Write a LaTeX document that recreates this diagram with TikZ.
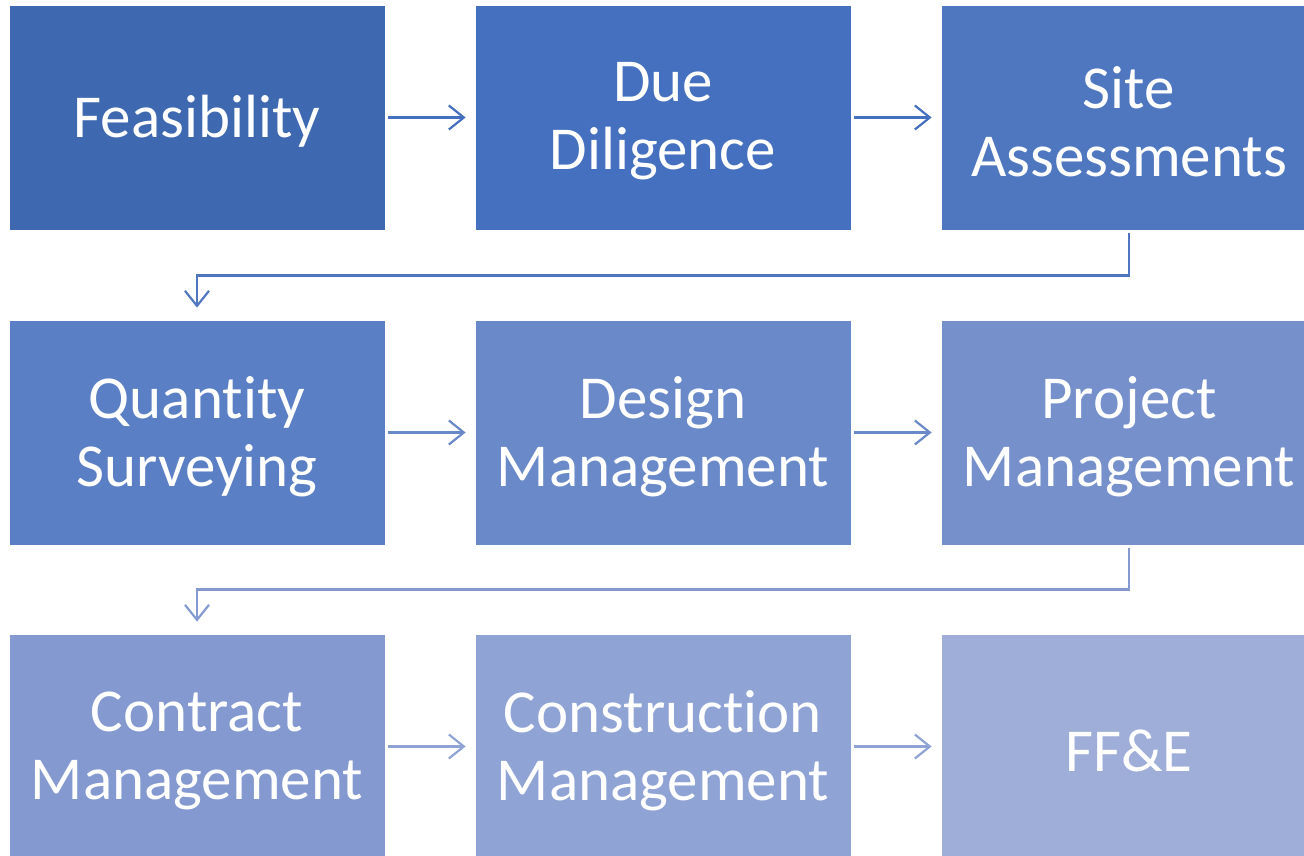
\documentclass[tikz,border=0pt]{standalone}
\usepackage{fontspec}
\setmainfont[RawFeature=-liga]{Carlito}
\usetikzlibrary{arrows.meta}
\definecolor{c1}{HTML}{3E68B0}
\definecolor{c2}{HTML}{4470BF}
\definecolor{c3}{HTML}{4F77C0}
\definecolor{c4}{HTML}{5B7FC5}
\definecolor{c5}{HTML}{6A89C9}
\definecolor{c6}{HTML}{7690CC}
\definecolor{c7}{HTML}{8399D0}
\definecolor{c8}{HTML}{8FA3D4}
\definecolor{c9}{HTML}{9FAED8}
\tikzset{
  stage/.style={rectangle, fill=#1, draw=white, line width=0.8pt,
    minimum width=376pt, minimum height=225pt, inner sep=0pt},
  lbl/.style={text=white, align=center, inner sep=0pt, yshift=-4pt,
    font=\fontsize{61}{68}\selectfont},
  flow/.style={draw=#1, line width=2.2pt,
    -{Straight Barb[length=15pt,width=24pt,line width=2.2pt]},
    shorten <=3pt, shorten >=9pt},
  elbow/.style={draw=#1, line width=2.2pt,
    -{Straight Barb[length=15pt,width=24pt,line width=2.2pt]},
    shorten <=3pt, shorten >=12pt}
}
\begin{document}
\begin{tikzpicture}[x=1pt,y=-1pt]
\useasboundingbox (0,0) rectangle (1304,855);
\clip (0,0) rectangle (1304,855);
\node[stage=c1] (fe) at (197,117.5) {};
\node[stage=c2] (dd) at (663,117.5) {};
\node[stage=c3] (sa) at (1129,117.5) {};
\node[stage=c4] (qs) at (197,432.5) {};
\node[stage=c5] (dm) at (663,432.5) {};
\node[stage=c6] (pm) at (1129,432.5) {};
\node[stage=c7] (cm) at (197,746.5) {};
\node[stage=c8] (co) at (663,746.5) {};
\node[stage=c9] (ff) at (1129,746.5) {};
\node[lbl] (fe-t) at (fe) {Feasibility};
\node[lbl] (dd-t) at (dd) {Due\\Diligence};
\node[lbl] (sa-t) at (sa) {Site\\Assessments};
\node[lbl] (qs-t) at (qs) {Quantity\\Surveying};
\node[lbl] (dm-t) at (dm) {Design\\Management};
\node[lbl] (pm-t) at (pm) {Project\\Management};
\node[lbl] (cm-t) at (cm) {Contract\\Management};
\node[lbl] (co-t) at (co) {Construction\\Management};
\node[lbl] (ff-t) at (ff) {FF\&E};
\draw[flow=c2] (fe) -- (dd);
\draw[flow=c2] (dd) -- (sa);
\draw[elbow=c3] (sa.south) -- ++(0,45) -| (qs.north);
\draw[flow=c5] (qs) -- (dm);
\draw[flow=c5] (dm) -- (pm);
\draw[elbow=c7] (pm.south) -- ++(0,44) -| (cm.north);
\draw[flow=c8] (cm) -- (co);
\draw[flow=c8] (co) -- (ff);
\end{tikzpicture}
\end{document}
